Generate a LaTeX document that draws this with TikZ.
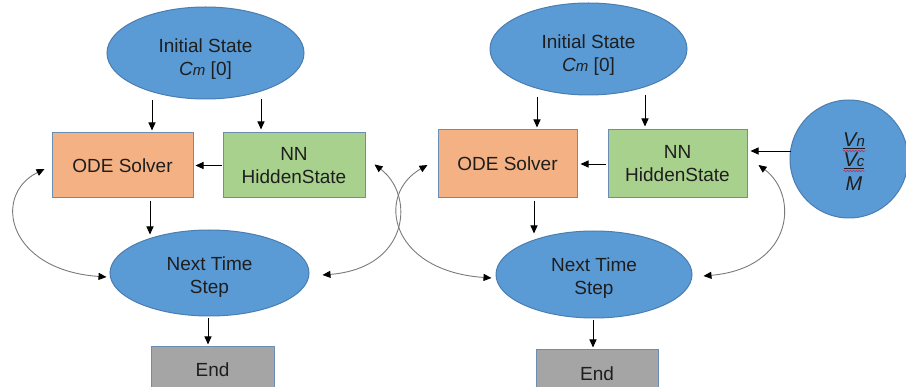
\documentclass[tikz,border=0pt]{standalone}
\usepackage{fontspec}
\setmainfont{Liberation Sans}
\usetikzlibrary{shapes.geometric,arrows.meta,calc,decorations.pathmorphing}
\definecolor{ellblue}{HTML}{5B9BD5}
\definecolor{ellborder}{HTML}{4A7DB0}
\definecolor{boxborder}{HTML}{6A8DB4}
\definecolor{odeorange}{HTML}{F4B183}
\definecolor{nngreen}{HTML}{A9D18E}
\definecolor{endgray}{HTML}{A5A5A5}
\definecolor{curvegray}{HTML}{7A7A7A}
\definecolor{txt}{HTML}{1E1E1E}
\definecolor{spell}{HTML}{C0306A}
\newcommand{\smallsub}[1]{{\fontsize{15}{15}\selectfont\itshape #1}}
\begin{document}
\begin{tikzpicture}[x=1pt,y=-1pt,
  lbl/.style={font=\fontsize{19}{23}\selectfont, text=txt, align=center, inner sep=0pt},
  ell/.style={lbl, ellipse, draw=ellborder, line width=1pt, fill=ellblue},
  boxnode/.style={lbl, rectangle, draw=boxborder, line width=1pt},
  arr/.style={draw=black, line width=0.9pt, -{Triangle[length=8pt,width=7pt]}},
  biarr/.style={draw=curvegray, line width=0.9pt,
     {Triangle[length=8pt,width=7pt,color=black]}-{Triangle[length=8pt,width=7pt,color=black]}},
  wavy/.style={draw=spell, line width=0.6pt, decorate,
     decoration={snake, amplitude=0.8pt, segment length=3pt}}
]
\useasboundingbox (0,0) rectangle (906,387);
\clip (0,0) rectangle (906,387);

% ---------- left diagram ----------
\node[ell, minimum width=197pt, minimum height=92pt] (init1) at (205.5,53)
  {\rule{0pt}{26pt}Initial State\\\textit{C}\smallsub{m} [0]};
\node[boxnode, fill=odeorange, minimum width=141pt, minimum height=65pt] (ode1) at (122.5,165.5) {ODE Solver};
\node[boxnode, fill=nngreen, minimum width=142pt, minimum height=65pt] (nn1) at (294,165.5) {NN\\HiddenState};
\node[ell, minimum width=199pt, minimum height=86pt] (nts1) at (209.5,273) {\rule{0pt}{21pt}Next Time\\Step};
\node[boxnode, fill=endgray, minimum width=123pt, minimum height=46pt] (end1) at (212.5,370) {End};

\draw[arr] ($(init1.south -| ode1.north)+(29.5,1)$) -- ($(ode1.north)+(29.5,-2)$);
\draw[arr] ($(init1.south -| nn1.north)+(-33,0)$) -- ($(nn1.north)+(-33,-3)$);
\draw[arr] ($(nn1.west)+(-1,0)$) -- ($(ode1.east)+(2,0)$);
\draw[arr] ($(ode1.south)+(27.5,3)$) -- ($(nts1.north)+(-59.5,5)$);
\draw[arr] ($(nts1.south)+(-1.5,2)$) -- ($(end1.north)+(-4.5,-2)$);

\draw[biarr] ($(nts1.west)+(-3,4)$) .. controls (7,270) and (-8,195) .. ($(ode1.west)+(-7,3.5)$);
\draw[biarr] ($(nts1.east)+(13,2)$) .. controls (410,268) and (415,195) .. ($(nn1.east)+(9,-1)$);

% ---------- right diagram ----------
\node[ell, minimum width=197pt, minimum height=92pt] (init2) at (588.5,49)
  {\rule{0pt}{26pt}Initial State\\\textit{C}\smallsub{m} [0]};
\node[boxnode, fill=odeorange, minimum width=139pt, minimum height=68pt] (ode2) at (507.5,164) {ODE Solver};
\node[boxnode, fill=nngreen, minimum width=139pt, minimum height=68pt] (nn2) at (677.5,164) {NN\\HiddenState};
\node[ell, minimum width=196pt, minimum height=87pt] (nts2) at (594,274.5) {\rule{0pt}{21pt}Next Time\\Step};
\node[boxnode, fill=endgray, minimum width=122pt, minimum height=48pt] (end2) at (597,374) {End};
\node[circle, draw=ellborder, line width=1pt, fill=ellblue, minimum size=118pt, inner sep=0pt] (circ) at (849,159) {};

\node[lbl, anchor=base, font=\fontsize{20}{20}\selectfont\itshape] (vn) at (854,147) {\underline{V\smallsub{n}}};
\node[lbl, anchor=base, font=\fontsize{20}{20}\selectfont\itshape] (vc) at (854,167) {\underline{V\smallsub{c}}};
\node[lbl, anchor=base, font=\fontsize{20}{20}\selectfont\itshape] (mm) at (854,191) {M};
\draw[wavy] ($(vn.base west)+(0,4)$) -- ($(vn.base east)+(0,4)$);
\draw[wavy] ($(vc.base west)+(0,4)$) -- ($(vc.base east)+(0,4)$);

\draw[arr] ($(init2.south -| ode2.north)+(29.5,2)$) -- ($(ode2.north)+(29.5,-2)$);
\draw[arr] ($(init2.south -| nn2.north)+(-32.5,0)$) -- ($(nn2.north)+(-32.5,-3)$);
\draw[arr] ($(nn2.west)+(-2,0)$) -- ($(ode2.east)+(3,0)$);
\draw[arr] ($(circ.west)+(1,-8)$) -- ($(nn2.east)+(3,-13)$);
\draw[arr] ($(ode2.south)+(26.5,3)$) -- ($(nts2.north)+(-60,3)$);
\draw[arr] ($(nts2.south)+(-1,1.5)$) -- ($(end2.north)+(-4,-2)$);

\draw[biarr] ($(nts2.west)+(-4,3.5)$) .. controls (390,271) and (375,195) .. ($(ode2.west)+(-10,1)$);
\draw[biarr] ($(nts2.east)+(11,1.5)$) .. controls (794,268) and (799,195) .. ($(nn2.east)+(11,1)$);
\end{tikzpicture}
\end{document}
